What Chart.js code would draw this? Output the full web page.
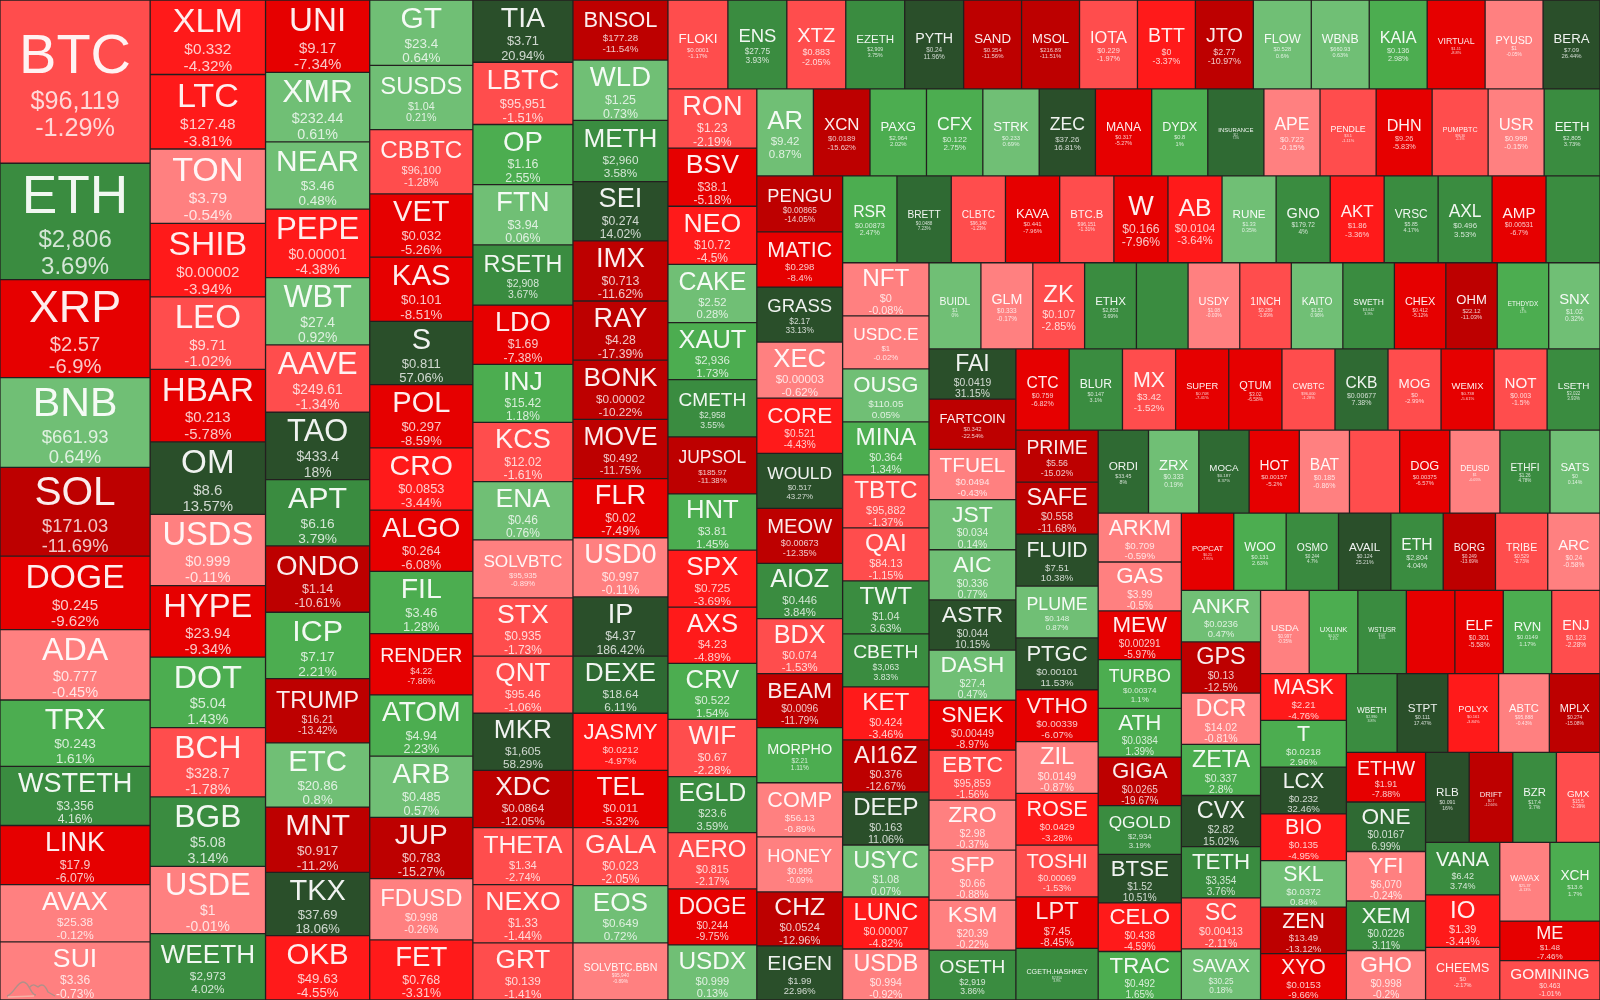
<!DOCTYPE html>
<html><head><meta charset="utf-8">
<style>html,body{margin:0;padding:0;background:#222}canvas{display:block}</style>
<script src="https://cdn.jsdelivr.net/npm/chart.js@4"></script>
</head><body><canvas id="c" width="1600" height="1000"></canvas>
<script>
const stripCounts=[12,14,15,16,17,17,16,16,15,15,14,14,13,13,11,11,10,10,8,8,7,7,5,5,4,3,2,2];
const symbols=[
"BTC","ETH","XRP","BNB","SOL","DOGE","ADA","TRX","WSTETH","LINK","AVAX","SUI",
"XLM","LTC","TON","SHIB","LEO","HBAR","OM","USDS","HYPE","DOT","BCH","BGB","USDE","WEETH",
"UNI","XMR","NEAR","PEPE","WBT","AAVE","TAO","APT","ONDO","ICP","TRUMP","ETC","MNT","TKX","OKB",
"GT","SUSDS","CBBTC","VET","KAS","S","POL","CRO","ALGO","FIL","RENDER","ATOM","ARB","JUP","FDUSD","FET",
"TIA","LBTC","OP","FTN","RSETH","LDO","INJ","KCS","ENA","SOLVBTC","STX","QNT","MKR","XDC","THETA","NEXO","GRT",
"BNSOL","WLD","METH","SEI","IMX","RAY","BONK","MOVE","FLR","USD0","IP","DEXE","JASMY","TEL","GALA","EOS","SOLVBTC.BBN",
"FLOKI","ENS","XTZ","EZETH","PYTH","SAND","MSOL","IOTA","BTT","JTO","FLOW","WBNB","KAIA","VIRTUAL","PYUSD","BERA",
"RON","BSV","NEO","CAKE","XAUT","CMETH","JUPSOL","HNT","SPX","AXS","CRV","WIF","EGLD","AERO","DOGE","USDX",
"AR","XCN","PAXG","CFX","STRK","ZEC","MANA","DYDX","INSURANCE","APE","PENDLE","DHN","PUMPBTC","USR","EETH",
"PENGU","MATIC","GRASS","XEC","CORE","WOULD","MEOW","AIOZ","BDX","BEAM","MORPHO","COMP","HONEY","CHZ","EIGEN",
"RSR","BRETT","CLBTC","KAVA","BTC.B","W","AB","RUNE","GNO","AKT","VRSC","AXL","AMP","",
"NFT","USDC.E","OUSG","MINA","TBTC","QAI","TWT","CBETH","KET","AI16Z","DEEP","USYC","LUNC","USDB",
"BUIDL","GLM","ZK","ETHX","","USDY","1INCH","KAITO","SWETH","CHEX","OHM","ETHDYDX","SNX",
"FAI","FARTCOIN","TFUEL","JST","AIC","ASTR","DASH","SNEK","EBTC","ZRO","SFP","KSM","OSETH",
"CTC","BLUR","MX","SUPER","QTUM","CWBTC","CKB","MOG","WEMIX","NOT","LSETH",
"PRIME","SAFE","FLUID","PLUME","PTGC","VTHO","ZIL","ROSE","TOSHI","LPT","CGETH.HASHKEY",
"ORDI","ZRX","MOCA","HOT","BAT","","DOG","DEUSD","ETHFI","SATS",
"ARKM","GAS","MEW","TURBO","ATH","GIGA","QGOLD","BTSE","CELO","TRAC",
"POPCAT","WOO","OSMO","AVAIL","ETH","BORG","TRIBE","ARC",
"ANKR","GPS","DCR","ZETA","CVX","TETH","SC","SAVAX",
"USDA","UXLINK","WSTUSR","","ELF","RVN","ENJ",
"MASK","T","LCX","BIO","SKL","ZEN","XYO",
"WBETH","STPT","POLYX","ABTC","MPLX",
"ETHW","ONE","YFI","XEM","GHO",
"RLB","DRIFT","BZR","GMX",
"VANA","IO","CHEEMS",
"WAVAX","XCH",
"ME","GOMINING"];
const prices=[
"96,119","2,806","2.57","661.93","171.03","0.245","0.777","0.243","3,356","17.9","25.38","3.36",
"0.332","127.48","3.79","0.00002","9.71","0.213","8.6","0.999","23.94","5.04","328.7","5.08","1","2,973",
"9.17","232.44","3.46","0.00001","27.4","249.61","433.4","6.16","1.14","7.17","16.21","20.86","0.917","37.69","49.63",
"23.4","1.04","96,100","0.032","0.101","0.811","0.297","0.0853","0.264","3.46","4.22","4.94","0.485","0.783","0.998","0.768",
"3.71","95,951","1.16","3.94","2,908","1.69","15.42","12.02","0.46","95,935","0.935","95.46","1,605","0.0864","1.34","1.33","0.139",
"177.28","1.25","2,960","0.274","0.713","4.28","0.00002","0.492","0.02","0.997","4.37","18.64","0.0212","0.011","0.023","0.649","95,940",
"0.0001","27.75","0.883","2,909","0.24","0.354","216.89","0.229","0","2.77","0.528","660.93","0.136","1.11","1","7.09",
"1.23","38.1","10.72","2.52","2,936","2,958","185.97","3.81","0.725","4.23","0.522","0.67","23.6","0.815","0.244","0.999",
"9.42","0.0189","2,964","0.122","0.233","37.26","0.317","0.8","12","0.722","3.1","9.26","96.36","0.999","2,805",
"0.00865","0.298","2.17","0.00003","0.521","0.517","0.00673","0.446","0.074","0.0096","2.21","56.13","0.999","0.0524","1.99",
"0.00873","0.0488","96,140","0.441","96,151","0.166","0.0104","1.33","179.72","1.86","5.85","0.496","0.00531","",
"0","1","110.05","0.364","95,882","84.13","1.04","3,063","0.424","0.376","0.163","1.08","0.00007","0.994",
"1","0.333","0.107","2,853","","1.08","0.289","1.52","3,042","0.412","22.12","1","1.02",
"0.0419","0.342","0.0494","0.034","0.336","0.044","27.4","0.00449","95,859","2.98","0.66","20.39","2,919",
"0.759","0.147","3.42","0.708","3.02","96,000","0.00677","0","0.738","0.003","3,022",
"5.56","0.558","7.51","0.148","0.00101","0.00339","0.0149","0.0429","0.00069","7.45","2,950",
"33.45","0.333","0.187","0.00157","0.185","","0.00375","1","1.26","0",
"0.709","3.99","0.00291","0.00374","0.0384","0.0265","2,934","1.52","0.438","0.492",
"0.21","0.131","0.244","0.124","2,804","0.249","0.529","0.24",
"0.0236","0.13","14.02","0.337","2.82","3,354","0.00413","30.25",
"0.997","0.572","1.07","","0.301","0.0149","0.123",
"2.21","0.0218","0.232","0.135","0.0372","13.49","0.0153",
"2,990","0.111","0.161","95,888","0.274",
"1.91","0.0167","6,070","0.0226","0.998",
"0.091","0.7","17.4","15.5",
"6.42","1.39","0",
"25.37","13.6",
"1.48","0.463"];
const changes=[
-1.29,3.69,-6.9,0.64,-11.69,-9.62,-0.45,1.61,4.16,-6.07,-0.12,-0.73,
-4.32,-3.81,-0.54,-3.94,-1.02,-5.78,13.57,-0.11,-9.34,1.43,-1.78,3.14,-0.01,4.02,
-7.34,0.61,0.48,-4.38,0.92,-1.34,18,3.79,-10.61,2.21,-13.42,0.8,-11.2,18.06,-4.55,
0.64,0.21,-1.28,-5.26,-8.51,57.06,-8.59,-3.44,-6.08,1.28,-7.86,2.23,0.57,-15.27,-0.26,-3.31,
20.94,-1.51,2.55,0.06,3.67,-7.38,1.18,-1.61,0.76,-0.89,-1.73,-1.06,58.29,-12.05,-2.74,-1.44,-1.41,
-11.54,0.73,3.58,14.02,-11.62,-17.39,-10.22,-11.75,-7.49,-0.11,186.42,6.11,-4.97,-5.32,-2.05,0.72,-0.89,
-1.17,3.93,-2.05,3.75,11.96,-11.56,-11.51,-1.97,-3.37,-10.97,0.6,0.63,2.98,-8.8,-0.05,26.44,
-2.19,-5.18,-4.5,0.28,1.73,3.55,-11.38,1.45,-3.69,-4.89,1.54,-2.28,3.59,-2.17,-9.75,0.13,
0.87,-15.62,2.02,2.75,0.69,16.81,-5.27,1,7.5,-0.15,-1.11,-5.83,-1.1,-0.15,3.73,
-14.05,-8.4,33.13,-0.62,-4.43,43.27,-12.35,3.84,-1.53,-11.79,1.11,-0.89,-0.09,-12.96,22.96,
2.47,7.23,-1.23,-7.96,-1.31,-7.96,-3.64,0.35,4,-3.36,4.17,3.53,-6.7,4,
-0.08,-0.02,0.05,1.34,-1.37,-1.15,3.63,3.83,-3.46,-12.67,11.06,0.07,-4.82,-0.92,
0,-0.17,-2.85,3.69,4,-0.03,-1.89,0.96,3.9,-5.12,-11.03,1.1,0.32,
31.15,-22.54,-0.43,0.14,0.77,10.15,0.47,-8.97,-1.56,-0.37,-0.88,-0.22,3.86,
-6.82,3.1,-1.52,-7.41,-6.58,-1.28,7.38,-2.99,-5.61,-1.5,3.93,
-15.02,-11.68,10.38,0.87,11.53,-6.07,-0.87,-3.28,-1.53,-8.45,3.9,
8,0.19,8.37,-5.2,-0.86,-2,-6.57,-0.05,4.78,0.14,
-0.59,-0.5,-5.97,1.1,1.39,-19.67,3.19,10.51,-4.59,1.65,
-7.95,2.63,4.7,25.21,4.04,-13.69,-2.73,-0.58,
0.47,-12.5,-0.81,2.8,15.02,3.76,-2.11,0.18,
-0.35,1.1,3.5,-7,-5.58,1.17,-2.28,
-4.76,2.96,32.46,-4.95,0.84,-13.12,-9.66,
3.8,17.47,-3.84,-0.43,-15.08,
-7.88,6.99,-0.24,3.11,-0.2,
16,-12.66,3.7,-2.39,
3.74,-3.44,-2.17,
-0.13,1.7,
-7.46,-1.01];
const sizes=[
23520,16758,14112,12936,12789,10584,10143,9555,8526,8526,8232,8379,
8249,8249,8249,8136,8023,8023,8023,7910,7910,7797,7684,7684,7458,7345,
7242,6936,6732,6834,6732,6732,6732,6630,6630,6630,6426,6426,6528,6324,6426,
6464,6363,6363,6262,6363,6262,6262,6161,6060,6161,6060,6060,6060,6060,6060,5959,
5978,5978,5782,5782,5782,5684,5586,5684,5586,5586,5586,5488,5488,5488,5488,5586,5488,
5487,5487,5580,5394,5487,5394,5394,5394,5394,5394,5394,5208,5208,5208,5301,5208,5208,
5116,5030,5030,5030,5030,4945,4945,4945,4945,4945,4945,4945,4945,4945,4945,4860,
5046,4959,4959,4959,4872,4872,4872,4785,4872,4785,4785,4872,4785,4785,4785,4698,
4720,4720,4710,4700,4700,4690,4690,4680,4680,4680,4680,4670,4670,4670,4660,
4620,4536,4536,4620,4536,4536,4536,4536,4536,4452,4536,4452,4536,4452,4452,
4530,4530,4520,4520,4520,4510,4510,4510,4510,4500,4500,4500,4500,4500,
4394,4394,4394,4394,4394,4394,4394,4394,4394,4310,4394,4310,4310,4225,
4290,4290,4280,4280,4270,4270,4260,4260,4260,4250,4250,4250,4240,
4190,4190,4190,4180,4180,4180,4180,4170,4170,4170,4170,4160,4160,
4150,4150,4140,4140,4140,4130,4130,4130,4130,4130,4120,
4110,4110,4100,4100,4090,4090,4090,4090,4080,4080,4070,
4010,4010,4010,4000,4000,4000,4000,3990,3990,3990,
3900,3900,3890,3890,3890,3880,3880,3880,3880,3870,
3890,3890,3885,3885,3885,3880,3880,3880,
3900,3900,3890,3890,3890,3890,3880,3880,
3880,3880,3870,3870,3860,3860,3855,
3860,3850,3845,3840,3835,3830,3820,
3840,3840,3840,3840,3835,
3762,3762,3762,3762,3762,
3760,3760,3760,3760,
3741,3741,3741,
3793,3793,
3790,3790];

const VIEW_W=1600, VIEW_H=1000, GAP=0.65;
const FONT='"Liberation Sans", Arial, sans-serif';
function bucketColor(v){
  if(v<=-10)return '#bd0000';
  if(v<=-5)return '#e60000';
  if(v<=-3)return '#ff1a1a';
  if(v<=-1)return '#ff4d4d';
  if(v<0)return '#ff8080';
  if(v<1)return '#70bf75';
  if(v<3)return '#4cad50';
  if(v<5)return '#3a8c40';
  if(v<10)return '#2f6a33';
  return '#2a4f2a';
}
function squarify(values,counts,W,H){
  const total=values.reduce((a,b)=>a+b,0), k=W*H/total, out=[];
  let x=0,y=0,w=W,h=H,i=0;
  counts.forEach(n=>{
    const part=values.slice(i,i+n), sum=part.reduce((a,b)=>a+b,0)*k;
    if(w>=h){
      const d=sum/h; let p=y;
      part.forEach(v=>{const l=v*k/d; out.push({x0:x,x1:x+d,y0:p,y1:p+l}); p+=l;});
      x+=d; w-=d;
    }else{
      const d=sum/w; let p=x;
      part.forEach(v=>{const l=v*k/d; out.push({x0:p,x1:p+l,y0:y,y1:y+d}); p+=l;});
      y+=d; h-=d;
    }
    i+=n;
  });
  return out;
}
class TreemapController extends Chart.DatasetController{
  update(){this.updateElements(this._cachedMeta.data,0,this._cachedMeta.data.length);}
  updateElements(rects,start,count){
    const meta=this._cachedMeta, xs=meta.xScale, ys=meta.yScale;
    const cells=squarify(this.getDataset().data,stripCounts,VIEW_W,VIEW_H);
    for(let i=start;i<start+count;i++){
      const c=cells[i];
      const l=xs.getPixelForValue(c.x0)+GAP, r=xs.getPixelForValue(c.x1)-GAP;
      const t=ys.getPixelForValue(c.y0)+GAP, b=ys.getPixelForValue(c.y1)-GAP;
      Object.assign(rects[i],{x:(l+r)/2,width:r-l,y:t,base:b,height:b-t,horizontal:false,enableBorderRadius:false,inflateAmount:0,
        borderSkipped:{top:false,left:false,bottom:false,right:false},
        options:{backgroundColor:bucketColor(changes[i]),borderColor:'transparent',borderWidth:0,borderRadius:0}});
    }
  }
  draw(){const ctx=this.chart.ctx; this._cachedMeta.data.forEach(el=>el.draw(ctx));}
}
TreemapController.id='treemap';
TreemapController.defaults={dataElementType:'bar'};
Chart.register(TreemapController);

const labelPlugin={id:'labels',afterDatasetsDraw(chart){
  const ctx=chart.ctx, rects=chart.getDatasetMeta(0).data;
  ctx.save(); ctx.textAlign='center'; ctx.textBaseline='middle';
  rects.forEach((el,i)=>{
    if(!symbols[i])return;
    const w=el.width+2*GAP,h=el.height+2*GAP;
    ctx.font='100px '+FONT;
    const unit=ctx.measureText(symbols[i]).width/100;
    const f=Math.min(56,0.458*h,0.5*w,(w-21)/unit), p=f*0.45, lh=1.1;
    const cx=el.x, cy=el.y-GAP+h/2+1+f*0.04;
    const top=cy-lh*(f+2*p)/2;
    ctx.fillStyle='rgba(255,255,255,0.93)';
    ctx.font=f+'px '+FONT; ctx.fillText(symbols[i],cx,top+lh*f/2);
    ctx.fillStyle='rgba(255,255,255,0.78)';
    ctx.font=p+'px '+FONT;
    ctx.fillText('$'+prices[i],cx,top+lh*(f+p/2));
    ctx.fillText(changes[i]+'%',cx,top+lh*(f+1.5*p));
  });
  // watermark
  ctx.lineWidth=1.4; ctx.lineJoin='round';
  ctx.strokeStyle='rgba(150,150,140,0.75)';
  ctx.beginPath(); ctx.moveTo(7,996); ctx.bezierCurveTo(14,994,17,982,23,982); ctx.bezierCurveTo(30,982,30,995,36,995);
  ctx.moveTo(29,988); ctx.bezierCurveTo(33,983,35,985,38,987); ctx.bezierCurveTo(42,983,45,985,48,992); ctx.lineTo(55,996); ctx.stroke();
  ctx.strokeStyle='rgba(240,210,190,0.6)';
  ctx.beginPath(); ctx.moveTo(8,997); ctx.lineTo(34,996); ctx.stroke();
  ctx.restore();
}};
new Chart(document.getElementById('c'),{
  type:'treemap',
  data:{labels:symbols,datasets:[{label:'Market cap',data:sizes}]},
  options:{responsive:false,animation:false,events:[],
    layout:{padding:0},
    plugins:{legend:{display:false},tooltip:{enabled:false},title:{display:false}},
    scales:{x:{type:'linear',min:0,max:VIEW_W,display:false},
            y:{type:'linear',min:0,max:VIEW_H,reverse:true,display:false}}},
  plugins:[{id:'bg',beforeDraw(c){c.ctx.save();c.ctx.fillStyle='#231f1f';c.ctx.fillRect(0,0,c.width,c.height);c.ctx.restore();}},labelPlugin]
});
</script></body></html>
